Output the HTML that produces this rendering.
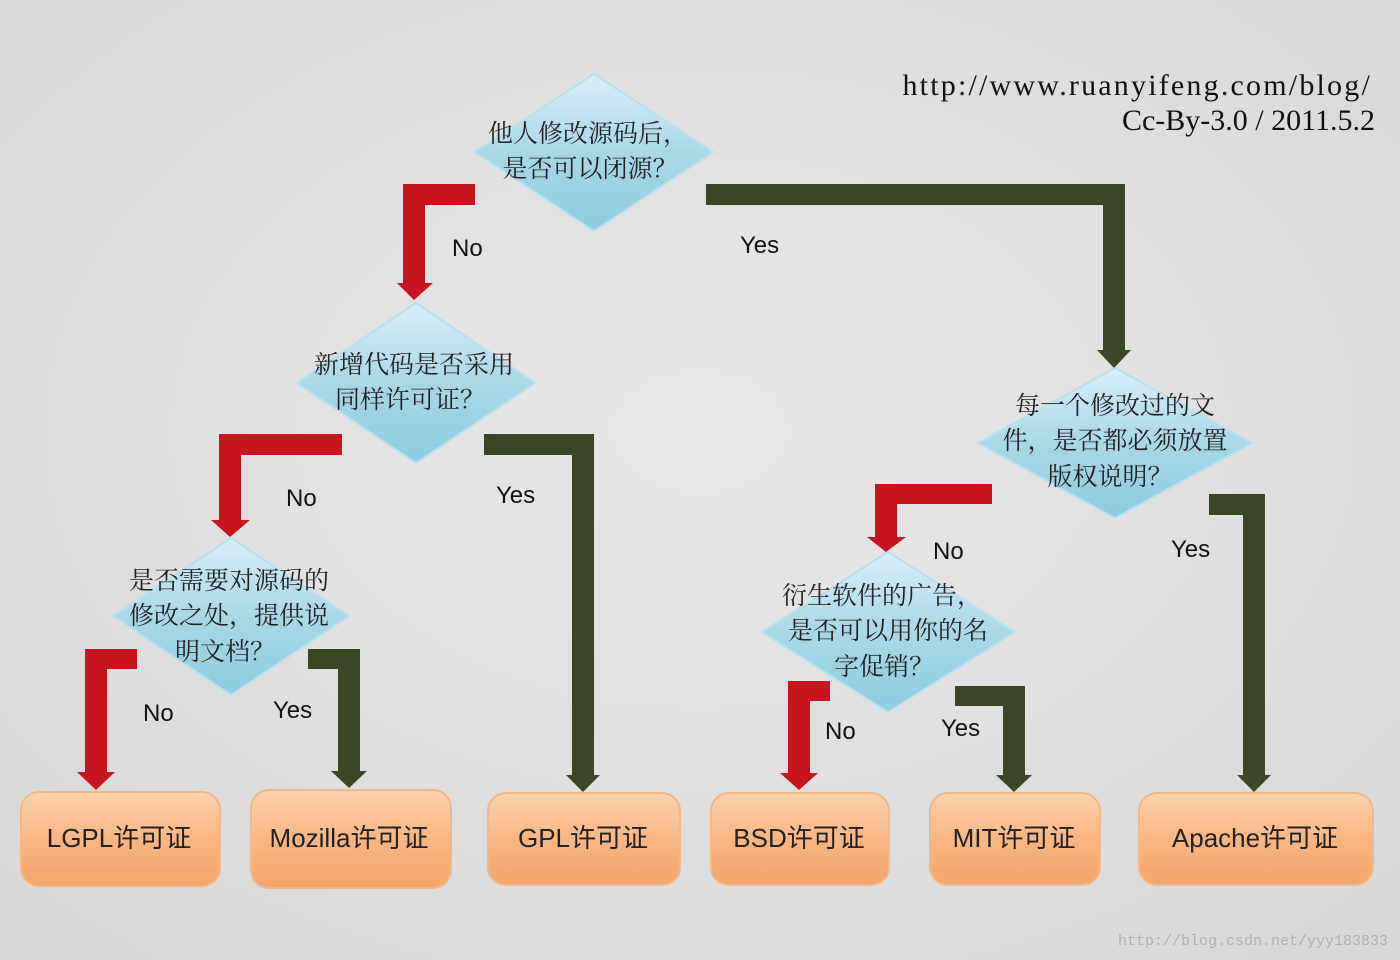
<!DOCTYPE html>
<html><head><meta charset="utf-8"><style>
html,body{margin:0;padding:0;width:1400px;height:960px;overflow:hidden;background:#e2e2e2}
svg{display:block}
.d{font-family:"Noto Serif CJK SC",serif;font-size:25px;fill:#222;text-anchor:middle}
.l{font-family:"Liberation Sans","Noto Sans CJK SC",sans-serif;font-size:24px;fill:#111}
.b{font-family:"Liberation Sans","Noto Sans CJK SC",sans-serif;font-size:26px;fill:#222;text-anchor:middle}
</style></head><body>
<svg width="1400" height="960" viewBox="0 0 1400 960">
<defs>
<radialGradient id="bg" cx="50%" cy="45%" r="70%"><stop offset="0" stop-color="#e8e8e8"/><stop offset="1" stop-color="#d8d8d8"/></radialGradient>
<linearGradient id="dm" x1="0" y1="0" x2="0" y2="1"><stop offset="0" stop-color="#d8eff6"/><stop offset="0.5" stop-color="#a9d8e6"/><stop offset="1" stop-color="#8ccbe0"/></linearGradient>
<linearGradient id="bx" x1="0" y1="0" x2="0" y2="1"><stop offset="0" stop-color="#fcd2ad"/><stop offset="0.5" stop-color="#f8b684"/><stop offset="1" stop-color="#f5a56a"/></linearGradient>
</defs>
<rect width="1400" height="960" fill="url(#bg)"/>

<g stroke-linejoin="round">
<g fill="#c8141e">
<path d="M403 184H475V205H425V283H433L414 300L397 283H403Z"/>
<path d="M219 434H342V455H241V520H250L230 537L211 520H219Z"/>
<path d="M875 484H992V504H897V537H906L886 552L867 537H875Z"/>
<path d="M85 649H137V669H107V772H115L96 790L77 772H85Z"/>
<path d="M788 681H830V701H810V773H818L799 790L780 773H788Z"/>
</g>
<g fill="#3a4626">
<path d="M706 184H1125V350H1131L1114 368L1097 350H1103V205H706Z"/>
<path d="M484 434H594V775H600L583 792L566 775H572V455H484Z"/>
<path d="M1209 494H1265V775H1271L1254 792L1237 775H1243V515H1209Z"/>
<path d="M308 649H360V771H367L349 788L331 771H338V669H308Z"/>
<path d="M955 686H1025V775H1032L1014 792L996 775H1003V706H955Z"/>
</g>
</g>

<g fill="url(#dm)" stroke="#b8e0ec" stroke-width="2" stroke-linejoin="round">
<path d="M594 74L713 152L594 231L475 152Z"/>
<path d="M416 303L535 383L416 463L297 383Z"/>
<path d="M231 538L349 616L231 695L113 616Z"/>
<path d="M1115 368L1252 443L1115 518L978 443Z"/>
<path d="M888 552L1015 632L888 712L762 632Z"/>
</g>
<text class="d" x="588" y="142">他人修改源码后，</text>
<text class="d" x="590" y="177">是否可以闭源？</text>
<text class="d" x="414" y="373">新增代码是否采用</text>
<text class="d" x="410" y="408">同样许可证？</text>
<text class="d" x="229" y="589">是否需要对源码的</text>
<text class="d" x="229" y="624">修改之处，提供说</text>
<text class="d" x="225" y="660">明文档？</text>
<text class="d" x="1115" y="414">每一个修改过的文</text>
<text class="d" x="1115" y="449">件，是否都必须放置</text>
<text class="d" x="1110" y="485">版权说明？</text>
<text class="d" x="882" y="604">衍生软件的广告，</text>
<text class="d" x="888" y="639">是否可以用你的名</text>
<text class="d" x="884" y="675">字促销？</text>

<text class="l" x="452" y="256">No</text>
<text class="l" x="740" y="253">Yes</text>
<text class="l" x="286" y="506">No</text>
<text class="l" x="496" y="503">Yes</text>
<text class="l" x="933" y="559">No</text>
<text class="l" x="1171" y="557">Yes</text>
<text class="l" x="143" y="721">No</text>
<text class="l" x="273" y="718">Yes</text>
<text class="l" x="825" y="739">No</text>
<text class="l" x="941" y="736">Yes</text>

<g fill="url(#bx)" stroke="#f0b888" stroke-width="2">
<rect x="21" y="792" width="199" height="94" rx="18"/>
<rect x="251" y="790" width="200" height="98" rx="18"/>
<rect x="488" y="793" width="192" height="92" rx="18"/>
<rect x="711" y="793" width="178" height="92" rx="18"/>
<rect x="930" y="793" width="170" height="92" rx="18"/>
<rect x="1139" y="793" width="234" height="92" rx="18"/>
</g>
<text class="b" x="119" y="847">LGPL许可证</text>
<text class="b" x="349" y="847">Mozilla许可证</text>
<text class="b" x="583" y="847">GPL许可证</text>
<text class="b" x="799" y="847">BSD许可证</text>
<text class="b" x="1014" y="847">MIT许可证</text>
<text class="b" x="1255" y="847">Apache许可证</text>

<text x="1372" y="95" text-anchor="end" letter-spacing="2.2" style="font-family:'Liberation Serif',serif;font-size:30px;fill:#111">http://www.ruanyifeng.com/blog/</text>
<text x="1375" y="130" text-anchor="end" style="font-family:'Liberation Serif',serif;font-size:30px;fill:#111">Cc-By-3.0 / 2011.5.2</text>
<text x="1388" y="945" text-anchor="end" style="font-family:'Liberation Mono',monospace;font-size:15px;fill:#b0b0b0">http://blog.csdn.net/yyy183833</text>
</svg>
</body></html>
